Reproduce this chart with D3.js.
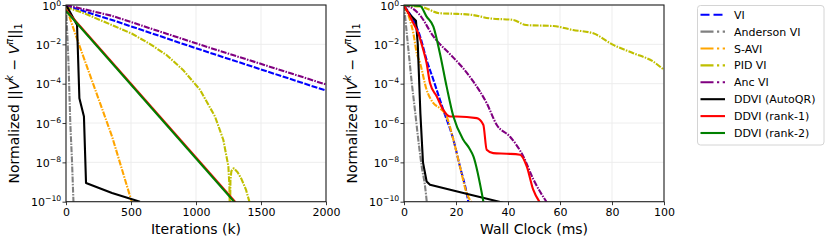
<!DOCTYPE html>
<html><head><meta charset="utf-8">
<script src="https://cdn.jsdelivr.net/npm/d3@7"></script>
<style>
body{margin:0;background:#fff}
svg{display:block;font-family:"DejaVu Sans",sans-serif}
</style>
</head><body>
<svg id="c" width="830" height="243"></svg>
<script>
// ---- Data: [x, log10(normalized error)] ----
// Left panel: iterations k
const itVI   = [[0,-0.03],[354,-0.76],[1000,-2.2],[2000,-4.35]];
const itAnd  = [[0,0],[10,-1.5],[20,-3.1],[33,-6.0],[46,-7.9],[59,-10.3]];
const itSAVI = [[0,-0.1],[97,-1.95],[354,-6.68],[510,-10.1]];
const itPID  = [[0,-0.1],[150,-0.45],[354,-1.02],[505,-1.45],[650,-2.0],[775,-2.55],[900,-3.3],[1031,-4.31],[1146,-5.67],[1210,-6.85],[1249,-8.2],[1257,-9.2],[1261,-11],[1265,-8.9],[1272,-8.45],[1290,-8.3],[1320,-8.5],[1350,-8.85],[1385,-9.4],[1415,-10.1]];
const itAnc  = [[0,0],[354,-0.55],[1000,-1.95],[2000,-4.04]];
const itQR   = [[0,-0.05],[10,-0.1],[85,-1.02],[103,-4.74],[138,-5.67],[154,-9.05],[354,-9.56],[569,-10.0]];
const itR1   = [[0,-0.27],[1307,-10.05]];
const itR2   = [[0,-0.3],[1300,-10.05]];
// Right panel: wall clock (ms)
const wcVI   = [[0,-0.05],[3.6,-0.76],[6.2,-1.6],[8.7,-2.79],[11.3,-3.8],[15.1,-5.33],[19,-6.85],[21.5,-8.2],[24.1,-9.56],[24.8,-10.05]];
const wcAnd  = [[0,0],[1.7,-2.28],[3,-3.97],[4.2,-5.33],[5.5,-6.85],[6.8,-8.2],[8.1,-9.22],[8.8,-10.05]];
const wcSAVI = [[0,-0.05],[2.3,-0.76],[3.6,-1.44],[4.9,-2.45],[6.2,-2.96],[8.7,-4.31],[11.3,-4.99],[13.8,-5.25],[16.4,-5.67],[19,-6.85],[21.5,-8.2],[24.1,-9.56],[26.1,-10.05]];
const wcPID  = [[0,-0.05],[6.2,-0.08],[13.8,-0.42],[20.5,-0.45],[26,-0.5],[33,-0.68],[42,-0.76],[47,-1.02],[57.4,-1.07],[65,-1.27],[72.8,-1.44],[80.5,-2.03],[88.2,-2.45],[95.9,-2.88],[100,-3.3]];
const wcAnc  = [[0,0],[3,-0.15],[6.1,-0.51],[11.3,-1.6],[17.7,-2.5],[22,-3.1],[26.7,-3.9],[31.8,-4.99],[35.7,-6.1],[40.8,-6.7],[45.9,-7.7],[49.7,-8.85],[55,-10.05]];
const wcQR   = [[0,-0.05],[2.3,-0.5],[4.6,-0.8],[5.3,-2.0],[6.3,-5.5],[7.3,-8.0],[8.7,-8.97],[10,-9.14],[24,-9.6],[38.2,-10.05]];
const wcR1   = [[0,-0.05],[1,-0.25],[3.6,-0.93],[5.5,-1.44],[7.4,-2.28],[8.7,-2.96],[10,-3.97],[12.6,-4.65],[15.1,-5.33],[17.7,-5.67],[20.3,-5.67],[28,-5.75],[30.5,-6.09],[31.8,-7.36],[34.3,-7.53],[39.5,-7.56],[44.6,-7.61],[47.2,-8.2],[49.7,-9.39],[52.3,-10.05]];
const wcR2   = [[0,0],[6.2,-0.05],[8.7,-0.59],[11.3,-1.1],[13.8,-2.45],[16.4,-4.15],[19,-5.67],[22.8,-6.85],[25.1,-7.28],[26.7,-7.7],[30.6,-10.05]];

const seriesNames  = ["VI","Anderson VI","S-AVI","PID VI","Anc VI","DDVI (AutoQR)","DDVI (rank-1)","DDVI (rank-2)"];
const seriesColors = ["#0000ff","#808080","#ffa500","#bfbf00","#800080","#000000","#ff0000","#008000"];
const seriesDash   = ["dash","dashdot","dashdot","dashdot","dashdot","solid","solid","solid"];
const leftSeries   = [itVI,itAnd,itSAVI,itPID,itAnc,itQR,itR1,itR2];
const rightSeries  = [wcVI,wcAnd,wcSAVI,wcPID,wcAnc,wcQR,wcR1,wcR2];
const leftXTicks   = [0,500,1000,1500,2000];
const rightXTicks  = [0,20,40,60,80,100];
const yTicks       = [0,-2,-4,-6,-8,-10];

const plotDash   = {dash:"6,1.6", dashdot:"6,1.3,1.5,1.3", solid:null};
const legendDash = {dash:"9,4", dashdot:"13,3.5,2.2,3.5", solid:null};
const LW = 2.1;
const svg = d3.select("#c");
const yTop = 5, yBot = 201.7;

function drawPanel(id, x0, x1, xDomain, xTicks, xLabel, series, smooth){
  const x = d3.scaleLinear().domain(xDomain).range([x0, x1]);
  const y = d3.scaleLinear().domain([-10,0]).range([yBot, yTop]);
  const g = svg.append("g");
  g.selectAll(".gx").data(xTicks).join("line")
    .attr("x1",d=>x(d)).attr("x2",d=>x(d)).attr("y1",yTop).attr("y2",yBot)
    .attr("stroke","#ebebeb").attr("stroke-width",0.9);
  g.selectAll(".gy").data(yTicks).join("line")
    .attr("y1",d=>y(d)).attr("y2",d=>y(d)).attr("x1",x0).attr("x2",x1)
    .attr("stroke","#ebebeb").attr("stroke-width",0.9);
  svg.append("clipPath").attr("id","clip"+id).append("rect")
    .attr("x",x0).attr("y",yTop).attr("width",x1-x0).attr("height",yBot-yTop);
  const lg = g.append("g").attr("clip-path","url(#clip"+id+")");
  series.forEach((s,i)=>{
    const line = d3.line().x(d=>x(d[0])).y(d=>y(d[1]))
      .curve(smooth && i!==5 ? d3.curveMonotoneX : d3.curveLinear);
    lg.append("path").attr("d",line(s)).attr("fill","none")
      .attr("stroke",seriesColors[i]).attr("stroke-width",LW)
      .attr("stroke-linejoin","round")
      .attr("stroke-dasharray",plotDash[seriesDash[i]]);
  });
  const xa = g.append("g").attr("transform",`translate(0,${yBot})`)
    .call(d3.axisBottom(x).tickValues(xTicks).tickSize(3.5).tickPadding(3).tickFormat(d3.format("d")));
  xa.select(".domain").remove();
  xa.selectAll("line").attr("stroke","#222").attr("stroke-width",0.9);
  xa.selectAll("text").attr("font-size",11).attr("fill","#000").attr("font-family","DejaVu Sans");
  const ya = g.append("g").attr("transform",`translate(${x0},0)`)
    .call(d3.axisLeft(y).tickValues(yTicks).tickSize(3.5).tickPadding(1.5).tickFormat(""));
  ya.select(".domain").remove();
  ya.selectAll("line").attr("stroke","#222").attr("stroke-width",0.9);
  ya.selectAll(".tick text").each(function(d){
    const t = d3.select(this).attr("font-size",11).attr("fill","#000")
      .attr("font-family","DejaVu Sans").attr("text-anchor","end").attr("dy","0.38em").attr("x",-4.8);
    t.text(null);
    t.append("tspan").text("10");
    t.append("tspan").attr("dy",d===0 ? -3.8 : -5).attr("font-size",7.7).text(d===0 ? "0" : "\u2212"+(-d));
  });
  g.append("rect").attr("x",x0).attr("y",yTop).attr("width",x1-x0).attr("height",yBot-yTop)
    .attr("fill","none").attr("stroke","#222").attr("stroke-width",1.1);
  g.append("text").attr("x",(x0+x1)/2).attr("y",234).attr("text-anchor","middle")
    .attr("font-size",14).text(xLabel);
  const yl = g.append("text").attr("transform",`translate(${x0-47},${(yTop+yBot)/2}) rotate(-90)`)
    .attr("text-anchor","middle").attr("font-size",14);
  yl.append("tspan").text("Normalized ||");
  yl.append("tspan").attr("font-style","italic").text("V");
  yl.append("tspan").attr("font-style","italic").attr("font-size",9.8).attr("dy",-6).text("k");
  yl.append("tspan").attr("dy",6).text(" \u2212 ");
  yl.append("tspan").attr("font-style","italic").text("V");
  yl.append("tspan").attr("font-style","italic").attr("font-size",9.8).attr("dy",-6).text("\u03c0");
  yl.append("tspan").attr("dy",6).text("||");
  yl.append("tspan").attr("font-size",9.8).attr("dy",3).text("1");
}

drawPanel("L", 66, 326, [0,2000], leftXTicks, "Iterations (k)", leftSeries, false);
drawPanel("R", 404, 664, [0,100], rightXTicks, "Wall Clock (ms)", rightSeries, true);

const lgd = svg.append("g");
lgd.append("rect").attr("x",697.5).attr("y",5.5).attr("width",126.5).attr("height",139.5)
  .attr("rx",3).attr("fill","#fff").attr("stroke","#d4d4d4").attr("stroke-width",1);
seriesNames.forEach((n,i)=>{
  const cy = 14.7 + i*16.9;
  lgd.append("line").attr("x1",700.5).attr("x2",725).attr("y1",cy).attr("y2",cy)
    .attr("stroke",seriesColors[i]).attr("stroke-width",LW)
    .attr("stroke-dasharray",legendDash[seriesDash[i]]);
  lgd.append("text").attr("x",734).attr("y",cy+4).attr("font-size",11).text(n);
});
</script>
</body></html>
